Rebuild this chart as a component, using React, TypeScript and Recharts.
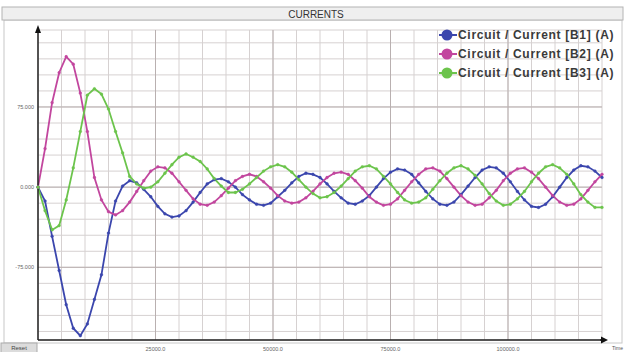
import React from "react";
import {
  LineChart,
  Line,
  XAxis,
  YAxis,
  CartesianGrid,
  ReferenceLine,
  Legend,
} from "recharts";

// sample times (s), one every 1500
const TIME = [
  0, 1500, 3000, 4500, 6000, 7500, 9000, 10500, 12000, 13500, 15000, 16500,
  18000, 19500, 21000, 22500, 24000, 25500, 27000, 28500, 30000, 31500, 33000,
  34500, 36000, 37500, 39000, 40500, 42000, 43500, 45000, 46500, 48000, 49500,
  51000, 52500, 54000, 55500, 57000, 58500, 60000, 61500, 63000, 64500, 66000,
  67500, 69000, 70500, 72000, 73500, 75000, 76500, 78000, 79500, 81000, 82500,
  84000, 85500, 87000, 88500, 90000, 91500, 93000, 94500, 96000, 97500, 99000,
  100500, 102000, 103500, 105000, 106500, 108000, 109500, 111000, 112500,
  114000, 115500, 117000, 118500, 120000,
];

const B1 = [
  0, -13, -46, -78, -110, -132, -139, -128, -105, -82, -43, -13, 1, 6, 4, -2,
  -9, -18, -25, -28, -27, -22, -14, -5, 3, 7, 8, 5, 0, -7, -12, -16, -17, -15,
  -9, -3, 4, 10, 13, 12, 9, 3, -4, -10, -15, -16, -13, -8, 0, 8, 14, 17, 16,
  12, 4, -4, -11, -16, -17, -14, -7, 1, 9, 16, 19, 18, 13, 5, -4, -12, -18,
  -19, -16, -9, 0, 9, 16, 20, 19, 15, 9,
];

const B2 = [
  0, 36, 79, 107, 122, 115, 88, 52, 9, -12, -23, -26, -22, -14, -4, 6, 15, 19,
  18, 13, 5, -3, -11, -16, -17, -14, -8, -1, 6, 10, 12, 10, 5, -1, -8, -13,
  -15, -14, -10, -4, 3, 9, 13, 14, 12, 6, -1, -9, -14, -17, -16, -11, -3, 5,
  12, 17, 18, 15, 8, 0, -8, -14, -17, -16, -10, -3, 6, 13, 17, 18, 14, 8, 0,
  -8, -14, -17, -16, -11, -3, 5, 12,
];

const B3 = [
  0, -22, -40, -36, -12, 18, 52, 86, 92, 87, 73, 52, 32, 10, 3, -1, 0, 5, 13,
  21, 28, 31, 28, 24, 17, 8, 1, -5, -5, -2, 3, 9, 15, 19, 21, 19, 14, 7, 0,
  -6, -10, -9, -5, 1, 8, 15, 19, 20, 17, 10, 3, -5, -12, -15, -14, -10, -2, 6,
  13, 18, 20, 17, 11, 3, -6, -13, -17, -16, -11, -4, 5, 13, 19, 21, 18, 12, 3,
  -7, -14, -19, -19,
];

const SERIES_NAMES = [
  "Circuit / Current [B1] (A)",
  "Circuit / Current [B2] (A)",
  "Circuit / Current [B3] (A)",
];
const SERIES_KEYS = ["b1", "b2", "b3"];
const COLORS = ["#3b46ad", "#c2469e", "#6cc44c"];

const X_GRID = [
  0, 5000, 10000, 15000, 20000, 25000, 30000, 35000, 40000, 45000, 50000,
  55000, 60000, 65000, 70000, 75000, 80000, 85000, 90000, 95000, 100000,
  105000, 110000, 115000, 120000,
];
const X_MAJOR = [25000, 50000, 75000, 100000];
const X_LABELS = ["25000.0", "50000.0", "75000.0", "100000.0"];

const Y_GRID = [
  -135, -120, -105, -90, -75, -60, -45, -30, -15, 0, 15, 30, 45, 60, 75, 90,
  105, 120, 135,
];
const Y_MAJOR = [-75, 0, 75];
const Y_LABELS = ["-75.000", "0.000", "75.000"];

const rows = TIME.map((t, i) => ({ t, b1: B1[i], b2: B2[i], b3: B3[i] }));

const XTick = (props: any) => {
  const { x, y, payload } = props;
  const i = X_MAJOR.indexOf(payload.value);
  if (i < 0) return <g />;
  return (
    <text x={x} y={y} dy={3} textAnchor="middle" fontSize={5.5} fill="#666">
      {X_LABELS[i]}
    </text>
  );
};

const YTick = (props: any) => {
  const { x, y, payload } = props;
  const i = Y_MAJOR.indexOf(payload.value);
  if (i < 0) return <g />;
  return (
    <text x={x + 4} y={y} dy={2} textAnchor="end" fontSize={5.5} fill="#666">
      {Y_LABELS[i]}
    </text>
  );
};

const renderLegend = () => (
  <div>
    {SERIES_NAMES.map((name, i) => (
      <div
        key={name}
        style={{ display: "flex", alignItems: "center", height: 19 }}
      >
        <svg width={18} height={12} style={{ marginRight: 1 }}>
          <line x1={0} y1={6} x2={18} y2={6} stroke={COLORS[i]} strokeWidth={2} />
          <circle cx={8} cy={6} r={5.5} fill={COLORS[i]} />
        </svg>
        <span
          style={{
            fontSize: 12,
            fontWeight: "bold",
            letterSpacing: 0.7,
            color: "#3a3a3a",
            whiteSpace: "nowrap",
          }}
        >
          {name}
        </span>
      </div>
    ))}
  </div>
);

export default function App() {
  return (
    <div
      style={{
        position: "absolute",
        left: 0,
        top: 0,
        width: 625,
        height: 352,
        background: "#fff",
        fontFamily: "'Liberation Sans', Arial, sans-serif",
        overflow: "hidden",
      }}
    >
      <svg
        width={625}
        height={352}
        style={{ position: "absolute", left: 0, top: 0 }}
      >
        <rect x={4} y={20} width={618} height={323} fill="#fff" stroke="#c8c8c8" />
      </svg>
      <div style={{ position: "absolute", left: 0, top: 0 }}>
        <LineChart
          width={625}
          height={352}
          data={rows}
          margin={{ top: 30, right: 23, bottom: 0, left: 0 }}
        >
          <CartesianGrid stroke="#d6d1d1" strokeWidth={1} />
          <XAxis
            dataKey="t"
            type="number"
            domain={[0, 120000]}
            ticks={X_GRID}
            tick={<XTick />}
            tickLine={false}
            axisLine={{ stroke: "#222", strokeWidth: 1.5 }}
            height={12}
            interval={0}
          />
          <YAxis
            type="number"
            domain={[-143, 147]}
            ticks={Y_GRID}
            tick={<YTick />}
            tickLine={false}
            axisLine={{ stroke: "#222", strokeWidth: 1.5 }}
            width={38}
            interval={0}
          />
          {X_MAJOR.map((v) => (
            <ReferenceLine key={"x" + v} x={v} stroke="#b9b0b0" />
          ))}
          {Y_MAJOR.map((v) => (
            <ReferenceLine key={"y" + v} y={v} stroke="#b9b0b0" />
          ))}
          {SERIES_KEYS.map((k, i) => (
            <Line
              key={k}
              type="linear"
              dataKey={k}
              name={SERIES_NAMES[i]}
              stroke={COLORS[i]}
              strokeWidth={1.8}
              dot={{ r: 1.4, fill: COLORS[i], stroke: COLORS[i], strokeWidth: 0.4 }}
              activeDot={false}
              isAnimationActive={false}
            />
          ))}
          <Legend
            layout="vertical"
            align="center"
            verticalAlign="middle"
            content={renderLegend}
            wrapperStyle={{ top: 25, left: 439, width: 186 }}
          />
        </LineChart>
      </div>
      <svg
        width={625}
        height={352}
        style={{ position: "absolute", left: 0, top: 0, pointerEvents: "none" }}
      >
        <rect x={2} y={7} width={621} height={13} fill="#efefef" stroke="#b4b4b4" />
        <text x={316} y={17.5} textAnchor="middle" fontSize={10} fill="#333">
          CURRENTS
        </text>
        <polygon points="38,25 35,33 41,33" fill="#111" />
        <line x1={600} y1={340} x2={603} y2={340} stroke="#222" strokeWidth={1.5} />
        <polygon points="608,340 601,336.5 601,343.5" fill="#111" />
        <text x={612} y={350} fontSize={5} fill="#555">
          Time
        </text>
        <rect x={1} y={343} width={36} height={10} fill="#dcdcdc" stroke="#aaa" />
        <text x={19} y={350} textAnchor="middle" fontSize={6} fill="#444">
          Reset
        </text>
      </svg>
    </div>
  );
}
